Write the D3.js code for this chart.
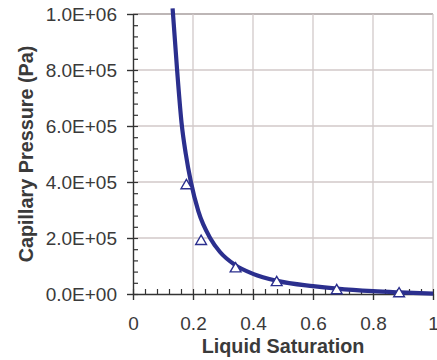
<!DOCTYPE html>
<html>
<head>
<meta charset="utf-8">
<script src="https://cdn.jsdelivr.net/npm/d3@7"></script>
<style>
  body { margin: 0; background: #fff; }
  text { font-family: "Liberation Sans", Arial, sans-serif; fill: #3a3a3a; }
</style>
</head>
<body>
<script>
// fitted curve
var curveSat = [0.132, 0.147, 0.162, 0.176, 0.193, 0.218, 0.257, 0.29, 0.34, 0.40, 0.48, 0.60, 0.68, 0.80, 0.89, 1.0];
var curvePc  = [1.02e6, 8.0e5, 6.1e5, 5.0e5, 4.0e5, 2.95e5, 2.0e5, 1.5e5, 1.04e5, 7.2e4, 4.7e4, 2.8e4, 1.9e4, 1.0e4, 5.5e3, 1.0e3];

// measured points
var pointSat = [0.178, 0.227, 0.342, 0.479, 0.679, 0.887];
var pointPc  = [3.92e5, 1.93e5, 9.5e4, 4.6e4, 1.7e4, 6.0e3];

var xTicks = [0, 0.2, 0.4, 0.6, 0.8, 1];
var xTickLabels = ['0', '0.2', '0.4', '0.6', '0.8', '1'];
var yTicks = [0, 2e5, 4e5, 6e5, 8e5, 1e6];
var yTickLabels = ['0.0E+00', '2.0E+05', '4.0E+05', '6.0E+05', '8.0E+05', '1.0E+06'];

var width = 437,
    height = 360,
    plot = { left: 133, right: 433, top: 14, bottom: 294 };

var blue = '#2b2f8e',
    axisColor = '#333',
    gridColor = '#d2c9c9';

var svg = d3.select('body')
    .append('svg')
    .attr('width', width)
    .attr('height', height)

var xScale = d3.scaleLinear()
    .domain([0, 1])
    .range([plot.left, plot.right])

var yScale = d3.scaleLinear()
    .domain([0, 1e6])
    .range([plot.bottom, plot.top])

// grid
svg.append('g')
    .selectAll('line')
    .data(yTicks.slice(1))
    .join('line')
    .attr('x1', plot.left).attr('x2', plot.right)
    .attr('y1', d => yScale(d)).attr('y2', d => yScale(d))
    .attr('stroke', (d, i) => i == yTicks.length - 2 ? '#a79e9e' : gridColor)
    .attr('stroke-width', 1.3)

svg.append('g')
    .selectAll('line')
    .data(xTicks.slice(1))
    .join('line')
    .attr('x1', d => xScale(d)).attr('x2', d => xScale(d))
    .attr('y1', plot.top).attr('y2', plot.bottom)
    .attr('stroke', gridColor)
    .attr('stroke-width', 1.3)

// inside minor ticks
svg.append('g')
    .attr('transform', `translate(${plot.left}, 0)`)
    .call(d3.axisRight(yScale).tickValues(d3.range(0, 1e6 + 1, 4e4)).tickSize(5).tickSizeOuter(0).tickFormat(''))
    .call(g => g.select('.domain').remove())
    .call(g => g.selectAll('line').attr('stroke', axisColor).attr('stroke-width', 1.2))

svg.append('g')
    .attr('transform', `translate(0, ${plot.bottom})`)
    .call(d3.axisTop(xScale).tickValues(d3.range(0, 1.0001, 0.04)).tickSize(5).tickSizeOuter(0).tickFormat(''))
    .call(g => g.select('.domain').remove())
    .call(g => g.selectAll('line').attr('stroke', axisColor).attr('stroke-width', 1.2))

// main axes
var yAxis = d3.axisLeft(yScale)
    .tickValues(yTicks)
    .tickSize(6)
    .tickSizeOuter(0)
    .tickPadding(10)
    .tickFormat((d, i) => yTickLabels[i])

var xAxis = d3.axisBottom(xScale)
    .tickValues(xTicks)
    .tickSize(6)
    .tickSizeOuter(0)
    .tickPadding(17)
    .tickFormat((d, i) => xTickLabels[i])

svg.append('g')
    .attr('transform', `translate(${plot.left}, 0)`)
    .call(yAxis)
    .call(g => g.selectAll('.domain, line').attr('stroke', axisColor).attr('stroke-width', 1.4))
    .call(g => g.selectAll('text').attr('font-size', 19).attr('fill', '#3a3a3a').attr('font-family', null))

svg.append('g')
    .attr('transform', `translate(0, ${plot.bottom})`)
    .call(xAxis)
    .call(g => g.selectAll('.domain, line').attr('stroke', axisColor).attr('stroke-width', 1.4))
    .call(g => g.selectAll('text').attr('font-size', 19).attr('fill', '#3a3a3a').attr('font-family', null))

// fitted curve
var curve = curveSat.map((s, i) => ({ s: s, p: curvePc[i] }))
var line = d3.line()
    .x(d => xScale(d.s))
    .y(d => yScale(d.p))
    .curve(d3.curveMonotoneX)

svg.append('path')
    .attr('d', line(curve))
    .attr('fill', 'none')
    .attr('stroke', blue)
    .attr('stroke-width', 4.2)
    .attr('stroke-linejoin', 'round')

// triangle markers
var tri = {
    draw: function (ctx) {
        ctx.moveTo(0, -4.8);
        ctx.lineTo(5.4, 4.5);
        ctx.lineTo(-5.4, 4.5);
        ctx.closePath();
    }
}
var points = pointSat.map((s, i) => ({ s: s, p: pointPc[i] }))
svg.append('g')
    .selectAll('path')
    .data(points)
    .join('path')
    .attr('d', d3.symbol(tri))
    .attr('transform', d => `translate(${xScale(d.s)}, ${yScale(d.p)})`)
    .attr('fill', '#fff')
    .attr('stroke', blue)
    .attr('stroke-width', 1.4)

// axis titles
svg.append('text')
    .attr('x', (plot.left + plot.right) / 2)
    .attr('y', 353)
    .attr('text-anchor', 'middle')
    .attr('font-size', 19.8)
    .attr('font-weight', 'bold')
    .text('Liquid Saturation')

svg.append('text')
    .attr('transform', `translate(33, ${(plot.top + plot.bottom) / 2}) rotate(-90)`)
    .attr('text-anchor', 'middle')
    .attr('font-size', 19.8)
    .attr('font-weight', 'bold')
    .text('Capillary Pressure (Pa)')
</script>
</body>
</html>
